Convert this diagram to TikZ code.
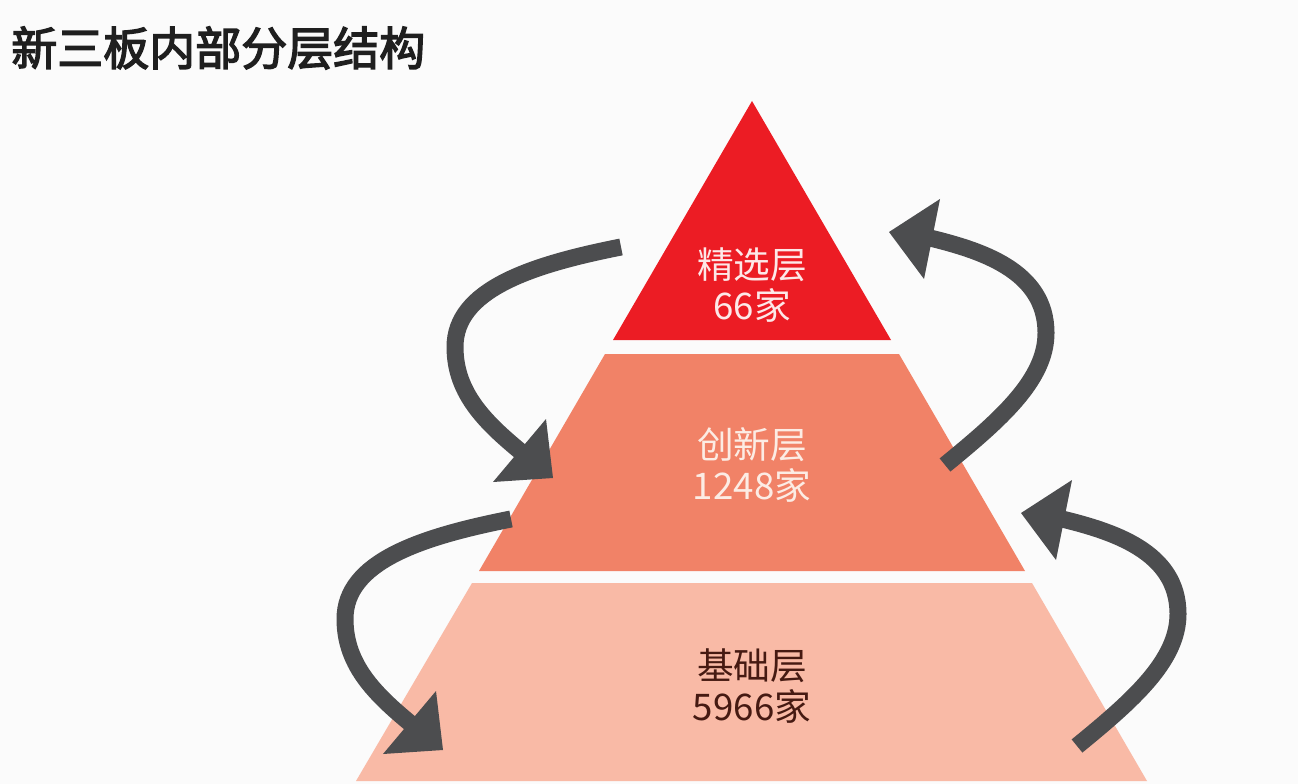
\documentclass[tikz,border=0pt]{standalone}
\usepackage{fontspec}
\setmainfont{Noto Sans CJK SC}
\newfontfamily\cjk{Noto Sans CJK SC}
\newfontfamily\cjkbold{Noto Sans CJK SC}[FakeBold=3]
\definecolor{bgc}{RGB}{251,251,251}
\definecolor{topc}{RGB}{236,28,36}
\definecolor{midc}{RGB}{241,130,103}
\definecolor{botc}{RGB}{249,186,166}
\definecolor{arrc}{RGB}{76,77,79}
\definecolor{toptext}{RGB}{253,232,232}
\definecolor{midtext}{RGB}{252,236,228}
\definecolor{bottext}{RGB}{70,26,18}
\tikzset{
  shaft/.style={draw=arrc, line width=12.75pt, line cap=butt},
  head/.style={fill=arrc},
  lbl/.style={align=center, font=\cjk\fontsize{27.5}{31}\selectfont, inner sep=0pt}
}
\begin{document}
\begin{tikzpicture}[x=0.75pt,y=-0.75pt]
\fill[bgc] (0,0) rectangle (1298,784);
\useasboundingbox (0,0) rectangle (1298,784);
% title
\node[anchor=west, inner sep=0pt, font=\cjkbold\fontsize{34.5}{40}\selectfont, text=black!88] (title) at (11,48) {新三板内部分层结构};
% pyramid
\fill[topc] (752,101) -- (891,340) -- (613,340) -- cycle;
\fill[midc] (605,354) -- (899,354) -- (1025,571) -- (479,571) -- cycle;
\fill[botc] (472,583) -- (1032,583) -- (1147,781) -- (356,781) -- cycle;
% labels
\node[lbl, text=toptext] (top) at (752,285) {精选层\\66家};
\node[lbl, text=midtext] (mid) at (752,465) {创新层\\1248家};
\node[lbl, text=bottext] (bot) at (752,686) {基础层\\5966家};
% left arrows (downward)
\foreach \dx/\dy in {0/0,-110/272}{
  \begin{scope}[shift={(\dx,\dy)}]
    \draw[shaft] (621,247) .. controls (530,265) and (455,290) .. (455,347)
                 .. controls (455,395) and (488,425) .. (526,456);
    \fill[head] (546,419) -- (553,478) -- (493,482) -- cycle;
  \end{scope}
}
% right arrows (upward)
\foreach \dx/\dy in {0/0,132/281}{
  \begin{scope}[shift={(\dx,\dy)}]
    \draw[shaft] (945,465) .. controls (1000,420) and (1046,380) .. (1046,333)
                 .. controls (1046,270) and (980,250) .. (926,237);
    \fill[head] (940,199) -- (889,232) -- (924,279) -- cycle;
  \end{scope}
}
\end{tikzpicture}
\end{document}
